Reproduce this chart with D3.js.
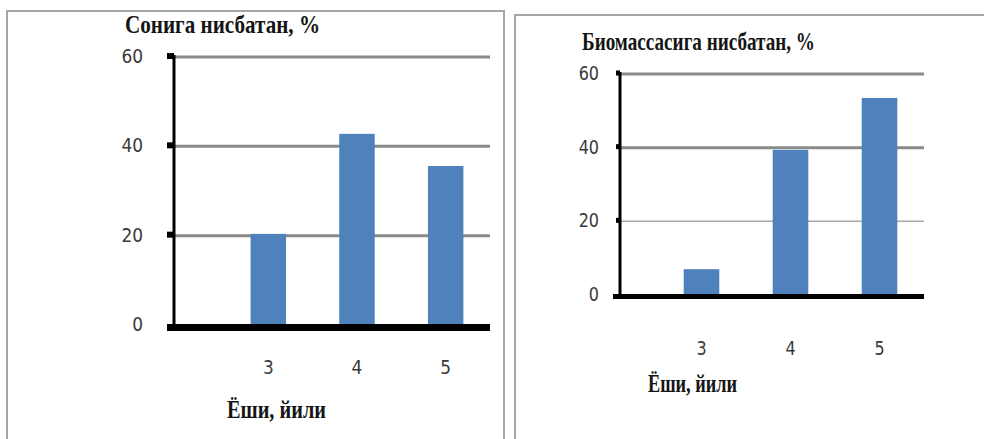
<!DOCTYPE html>
<html>
<head>
<meta charset="utf-8">
<script src="https://cdn.jsdelivr.net/npm/d3@7"></script>
<style>
  html, body { margin: 0; padding: 0; background: #fff; }
  svg { display: block; }
</style>
</head>
<body>
<svg id="chart" width="984" height="439"></svg>
<script>
// ---- data ----
const categories = ["3", "4", "5"];
const sonigaValues = [20.4, 42.8, 35.6];      // Сонига нисбатан, %
const biomassaValues = [7.0, 39.4, 53.5];     // Биомассасига нисбатан, %
const yTickValues = [0, 20, 40, 60];
const leftTitle = "Сонига нисбатан, %";
const rightTitle = "Биомассасига нисбатан, %";
const xAxisTitle = "Ёши, йили";

const svg = d3.select("#chart");
const BAR = "#4f81bd";
const GRID = "#8a8a8a";
const BORDER = "#a6a6a6";

// panel borders
svg.append("path")
  .attr("d", "M7,439 L7,11 L504,11 L504,439")
  .attr("fill", "none").attr("stroke", BORDER).attr("stroke-width", 2);
svg.append("path")
  .attr("d", "M515,439 L515,15 L984,15")
  .attr("fill", "none").attr("stroke", BORDER).attr("stroke-width", 2);

function stretchedText(g, x, y, txt, opts) {
  const t = g.append("text")
    .attr("transform", `translate(${x},${y}) scale(1,${opts.sy || 1})`)
    .attr("font-family", opts.family)
    .attr("font-size", opts.size)
    .attr("font-weight", opts.weight || "normal")
    .attr("fill", opts.fill || "#000")
    .attr("text-anchor", opts.anchor || "start")
    .text(txt);
  if (opts.width) {
    t.attr("textLength", opts.width).attr("lengthAdjust", "spacingAndGlyphs");
  }
  return t;
}

function drawChart(cfg) {
  const g = svg.append("g");
  const x = d3.scaleBand().domain(categories).range(cfg.xRange)
    .paddingInner(0.6).paddingOuter(0.3);
  const y = d3.scaleLinear().domain([0, 60]).range(cfg.yRange);

  // gridlines
  g.selectAll("line.grid").data(yTickValues.filter(d => d > 0)).enter()
    .append("line").attr("class", "grid")
    .attr("x1", cfg.axisX).attr("x2", cfg.xRange[1])
    .attr("y1", d => y(d)).attr("y2", d => y(d))
    .attr("stroke", d => (cfg.thinGrid.includes(d) ? "#a8a8a8" : GRID))
    .attr("stroke-width", d => (cfg.thinGrid.includes(d) ? 1.5 : 3));

  // bars
  g.selectAll("rect.bar").data(cfg.values).enter()
    .append("rect").attr("class", "bar")
    .attr("x", (d, i) => x(categories[i]))
    .attr("width", x.bandwidth())
    .attr("y", d => y(d))
    .attr("height", d => y(0) - y(d))
    .attr("fill", BAR);

  // y axis line
  g.append("line")
    .attr("x1", cfg.axisX).attr("x2", cfg.axisX)
    .attr("y1", y(60) - 2).attr("y2", y(0) + 3)
    .attr("stroke", "#000").attr("stroke-width", 3);
  // y ticks
  g.selectAll("rect.tick").data(yTickValues.filter(d => d > 0)).enter()
    .append("rect").attr("class", "tick")
    .attr("x", cfg.axisX - cfg.tickLen).attr("width", cfg.tickLen)
    .attr("y", d => y(d) - cfg.tickH / 2 - 1).attr("height", cfg.tickH)
    .attr("fill", "#000");

  // x axis line
  g.append("line")
    .attr("x1", cfg.axisX - 7).attr("x2", cfg.xRange[1])
    .attr("y1", y(0) + cfg.xAxisW / 2 - 1).attr("y2", y(0) + cfg.xAxisW / 2 - 1)
    .attr("stroke", "#000").attr("stroke-width", cfg.xAxisW);

  // y labels
  yTickValues.forEach(d => {
    stretchedText(g, cfg.yLabelX, y(d) + 6, String(d),
      { family: "DejaVu Sans", size: cfg.numSize, sy: 1.18, fill: "#3a3a3a", anchor: "end" });
  });
  // x labels
  categories.forEach(c => {
    stretchedText(g, x(c) + x.bandwidth() / 2, cfg.xLabelY, c,
      { family: "DejaVu Sans", size: cfg.numSize, sy: 1.18, fill: "#3a3a3a", anchor: "middle" });
  });

  // titles
  stretchedText(g, cfg.titleX, cfg.titleY, cfg.title,
    { family: "Liberation Serif", size: 20, weight: "bold", sy: 1.22, fill: "#151515", width: cfg.titleW });
  stretchedText(g, cfg.xTitleX, cfg.xTitleY, xAxisTitle,
    { family: "Liberation Serif", size: 20, weight: "bold", sy: 1.22, fill: "#151515", width: cfg.xTitleW });
}

drawChart({
  values: sonigaValues, title: leftTitle,
  xRange: [224, 490], yRange: [325, 57], axisX: 174,
  thinGrid: [], tickLen: 7, tickH: 6, xAxisW: 7,
  yLabelX: 143, xLabelY: 374, numSize: 17,
  titleX: 125, titleY: 33, titleW: 195,
  xTitleX: 227, xTitleY: 418, xTitleW: 99
});

drawChart({
  values: biomassaValues, title: rightTitle,
  xRange: [657, 924], yRange: [295, 74], axisX: 620,
  thinGrid: [20], tickLen: 4, tickH: 5, xAxisW: 5,
  yLabelX: 599, xLabelY: 355, numSize: 16,
  titleX: 582, titleY: 50, titleW: 233,
  xTitleX: 648, xTitleY: 392, xTitleW: 89
});
</script>
</body>
</html>
